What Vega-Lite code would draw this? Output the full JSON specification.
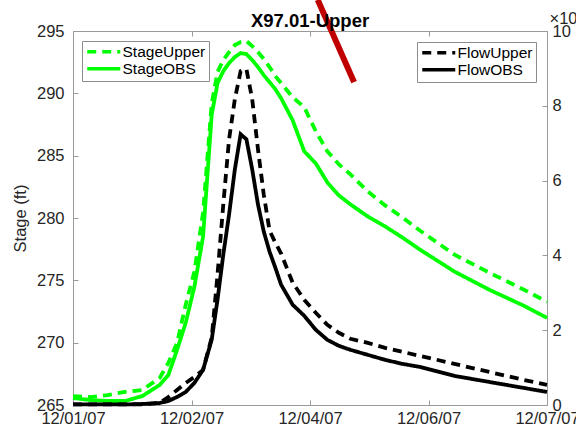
{
  "$schema": "https://vega.github.io/schema/vega-lite/v6.json",
  "width": 474,
  "height": 374,
  "autosize": {"type": "none"},
  "padding": {"left": 73, "top": 31, "right": 29, "bottom": 25},
  "background": "white",
  "title": {
    "text": "X97.01-Upper",
    "font": "Liberation Sans",
    "fontSize": 18.5,
    "fontWeight": "bold",
    "color": "#000000",
    "anchor": "middle",
    "offset": -43
  },
  "config": {
    "view": {"stroke": "#9a9a9a", "strokeWidth": 1},
    "axis": {
      "domainColor": "#9a9a9a",
      "tickColor": "#9a9a9a",
      "labelFont": "Liberation Sans",
      "labelFontSize": 16.5,
      "labelColor": "#262626",
      "titleFont": "Liberation Sans",
      "titleFontSize": 16.5,
      "titleFontWeight": "normal",
      "titleColor": "#262626",
      "grid": false,
      "tickSize": -5,
      "labelPadding": 8,
      "labelOverlap": false,
      "labelFlush": false,
      "labelBound": false
    },
    "legend": {
      "labelFont": "Liberation Sans",
      "labelFontSize": 15.5,
      "labelColor": "#000000",
      "symbolType": "M-3,0H3",
      "symbolSize": 121,
      "symbolStrokeWidth": 3.5,
      "symbolOffset": 11,
      "strokeColor": "#8c8c8c",
      "fillColor": "#ffffff",
      "padding": 3,
      "rowPadding": 0,
      "labelOffset": 11
    }
  },
  "data": {
    "values": [
      {"time": "2007-12-01T00:00", "StageUpper": 265.72, "StageOBS": 265.56, "FlowUpper": 150, "FlowOBS": 150},
      {"time": "2007-12-01T06:00", "StageUpper": 265.64, "StageOBS": 265.40, "FlowUpper": 150, "FlowOBS": 150},
      {"time": "2007-12-01T12:00", "StageUpper": 265.80, "StageOBS": 265.32, "FlowUpper": 150, "FlowOBS": 150},
      {"time": "2007-12-01T18:00", "StageUpper": 266.05, "StageOBS": 265.32, "FlowUpper": 150, "FlowOBS": 150},
      {"time": "2007-12-02T00:00", "StageUpper": 266.21, "StageOBS": 265.72, "FlowUpper": 150, "FlowOBS": 268},
      {"time": "2007-12-02T06:00", "StageUpper": 267.17, "StageOBS": 266.61, "FlowUpper": 536, "FlowOBS": 536},
      {"time": "2007-12-02T09:00", "StageUpper": 268.38, "StageOBS": 267.41, "FlowUpper": 2145, "FlowOBS": 1072},
      {"time": "2007-12-02T12:00", "StageUpper": 269.99, "StageOBS": 269.42, "FlowUpper": 4021, "FlowOBS": 2145},
      {"time": "2007-12-02T15:00", "StageUpper": 273.04, "StageOBS": 271.60, "FlowUpper": 5898, "FlowOBS": 3485},
      {"time": "2007-12-02T18:00", "StageUpper": 275.70, "StageOBS": 274.49, "FlowUpper": 7507, "FlowOBS": 5900},
      {"time": "2007-12-02T21:00", "StageUpper": 280.44, "StageOBS": 278.51, "FlowUpper": 9384, "FlowOBS": 9384},
      {"time": "2007-12-03T00:00", "StageUpper": 289.20, "StageOBS": 288.30, "FlowUpper": 18000, "FlowOBS": 17500},
      {"time": "2007-12-03T02:00", "StageUpper": 291.70, "StageOBS": 290.82, "FlowUpper": 34853, "FlowOBS": 28150},
      {"time": "2007-12-03T04:00", "StageUpper": 292.67, "StageOBS": 291.78, "FlowUpper": 53620, "FlowOBS": 40215},
      {"time": "2007-12-03T06:00", "StageUpper": 293.31, "StageOBS": 292.43, "FlowUpper": 71047, "FlowOBS": 50939},
      {"time": "2007-12-03T08:00", "StageUpper": 293.87, "StageOBS": 292.91, "FlowUpper": 81771, "FlowOBS": 63004},
      {"time": "2007-12-03T10:00", "StageUpper": 294.12, "StageOBS": 293.23, "FlowUpper": 89278, "FlowOBS": 72387},
      {"time": "2007-12-03T12:00", "StageUpper": 294.20, "StageOBS": 293.15, "FlowUpper": 89814, "FlowOBS": 71047},
      {"time": "2007-12-03T14:00", "StageUpper": 293.79, "StageOBS": 292.67, "FlowUpper": 81771, "FlowOBS": 63004},
      {"time": "2007-12-03T16:00", "StageUpper": 293.31, "StageOBS": 292.11, "FlowUpper": 68366, "FlowOBS": 53620},
      {"time": "2007-12-03T18:00", "StageUpper": 292.75, "StageOBS": 291.46, "FlowUpper": 56301, "FlowOBS": 46382},
      {"time": "2007-12-03T20:00", "StageUpper": 292.11, "StageOBS": 290.90, "FlowUpper": 46650, "FlowOBS": 41019},
      {"time": "2007-12-03T22:00", "StageUpper": 291.38, "StageOBS": 290.34, "FlowUpper": 43432, "FlowOBS": 36730},
      {"time": "2007-12-04T00:00", "StageUpper": 290.82, "StageOBS": 289.61, "FlowUpper": 40483, "FlowOBS": 32172},
      {"time": "2007-12-04T04:00", "StageUpper": 289.69, "StageOBS": 287.84, "FlowUpper": 32708, "FlowOBS": 26810},
      {"time": "2007-12-04T08:00", "StageUpper": 288.89, "StageOBS": 285.35, "FlowUpper": 28151, "FlowOBS": 23861},
      {"time": "2007-12-04T12:00", "StageUpper": 286.96, "StageOBS": 284.38, "FlowUpper": 24665, "FlowOBS": 20108},
      {"time": "2007-12-04T16:00", "StageUpper": 285.35, "StageOBS": 282.86, "FlowUpper": 21448, "FlowOBS": 17426},
      {"time": "2007-12-04T20:00", "StageUpper": 284.30, "StageOBS": 281.81, "FlowUpper": 19303, "FlowOBS": 15818},
      {"time": "2007-12-05T00:00", "StageUpper": 283.50, "StageOBS": 281.09, "FlowUpper": 17695, "FlowOBS": 14745},
      {"time": "2007-12-05T06:00", "StageUpper": 282.13, "StageOBS": 280.12, "FlowUpper": 16622, "FlowOBS": 13405},
      {"time": "2007-12-05T12:00", "StageUpper": 281.01, "StageOBS": 279.32, "FlowUpper": 15282, "FlowOBS": 12065},
      {"time": "2007-12-05T18:00", "StageUpper": 280.04, "StageOBS": 278.43, "FlowUpper": 14209, "FlowOBS": 10992},
      {"time": "2007-12-06T00:00", "StageUpper": 279.00, "StageOBS": 277.47, "FlowUpper": 13137, "FlowOBS": 10188},
      {"time": "2007-12-06T12:00", "StageUpper": 277.06, "StageOBS": 275.70, "FlowUpper": 10992, "FlowOBS": 7775},
      {"time": "2007-12-07T00:00", "StageUpper": 275.62, "StageOBS": 274.25, "FlowUpper": 8847, "FlowOBS": 6166},
      {"time": "2007-12-07T12:00", "StageUpper": 274.25, "StageOBS": 272.96, "FlowUpper": 6703, "FlowOBS": 4558},
      {"time": "2007-12-07T20:00", "StageUpper": 273.28, "StageOBS": 271.99, "FlowUpper": 5362, "FlowOBS": 3485}
    ]
  },
  "layer": [
    {
      "layer": [
        {
          "transform": [{"fold": ["StageUpper", "StageOBS"], "as": ["series", "stage"]}],
          "mark": {"type": "line", "color": "#00ff00", "strokeWidth": 3.8},
          "encoding": {
            "x": {
              "field": "time",
              "type": "temporal",
              "scale": {"domain": [{"year": 2007, "month": 12, "date": 1}, {"year": 2007, "month": 12, "date": 7, "hours": 20}]},
              "axis": {
                "orient": "bottom",
                "title": null,
                "format": "%m/%d/%y",
                "labelPadding": 10,
                "values": [
                  {"year": 2007, "month": 12, "date": 1},
                  {"year": 2007, "month": 12, "date": 2, "hours": 17},
                  {"year": 2007, "month": 12, "date": 4, "hours": 10},
                  {"year": 2007, "month": 12, "date": 6, "hours": 3},
                  {"year": 2007, "month": 12, "date": 7, "hours": 20}
                ]
              }
            },
            "y": {
              "field": "stage",
              "type": "quantitative",
              "scale": {"domain": [265, 295], "nice": false, "zero": false},
              "axis": {"orient": "left", "title": "Stage (ft)", "values": [265, 270, 275, 280, 285, 290, 295], "labelPadding": 14, "titlePadding": 8}
            },
            "strokeDash": {
              "field": "series",
              "type": "nominal",
              "scale": {"domain": ["StageUpper", "StageOBS"], "range": [[9, 6], [1, 0]]},
              "legend": {"title": null, "orient": "none", "legendX": 9, "legendY": 10, "symbolStrokeColor": "#00ff00"}
            }
          }
        },
        {
          "data": {
            "values": [
              {"time": "2007-12-04T12:40", "stage": 297.5},
              {"time": "2007-12-05T01:15", "stage": 290.9}
            ]
          },
          "mark": {"type": "line", "color": "#c00000", "strokeWidth": 6, "clip": false},
          "encoding": {
            "x": {"field": "time", "type": "temporal"},
            "y": {"field": "stage", "type": "quantitative"}
          }
        }
      ]
    },
    {
      "transform": [{"fold": ["FlowUpper", "FlowOBS"], "as": ["series", "flow"]}],
      "mark": {"type": "line", "color": "#000000", "strokeWidth": 3.8},
      "encoding": {
        "x": {
          "field": "time",
          "type": "temporal",
          "axis": {
            "orient": "top",
            "title": null,
            "labels": false,
            "values": [
              {"year": 2007, "month": 12, "date": 1},
              {"year": 2007, "month": 12, "date": 2, "hours": 17},
              {"year": 2007, "month": 12, "date": 4, "hours": 10},
              {"year": 2007, "month": 12, "date": 6, "hours": 3},
              {"year": 2007, "month": 12, "date": 7, "hours": 20}
            ]
          }
        },
        "y": {
          "field": "flow",
          "type": "quantitative",
          "scale": {"domain": [0, 100000], "nice": false},
          "axis": {
            "orient": "right",
            "values": [0, 20000, 40000, 60000, 80000, 100000],
            "labelExpr": "datum.value / 10000",
            "labelPadding": 10,
            "title": "×10⁴",
            "titleAngle": 0,
            "titleAlign": "left",
            "titleBaseline": "alphabetic",
            "titleX": 2,
            "titleY": -8
          }
        },
        "strokeDash": {
          "field": "series",
          "type": "nominal",
          "scale": {"domain": ["FlowUpper", "FlowOBS"], "range": [[9, 6], [1, 0]]},
          "legend": {"title": null, "orient": "none", "legendX": 344, "legendY": 11, "symbolStrokeColor": "#000000"}
        }
      }
    }
  ],
  "resolve": {"scale": {"y": "independent", "strokeDash": "independent"}}
}
